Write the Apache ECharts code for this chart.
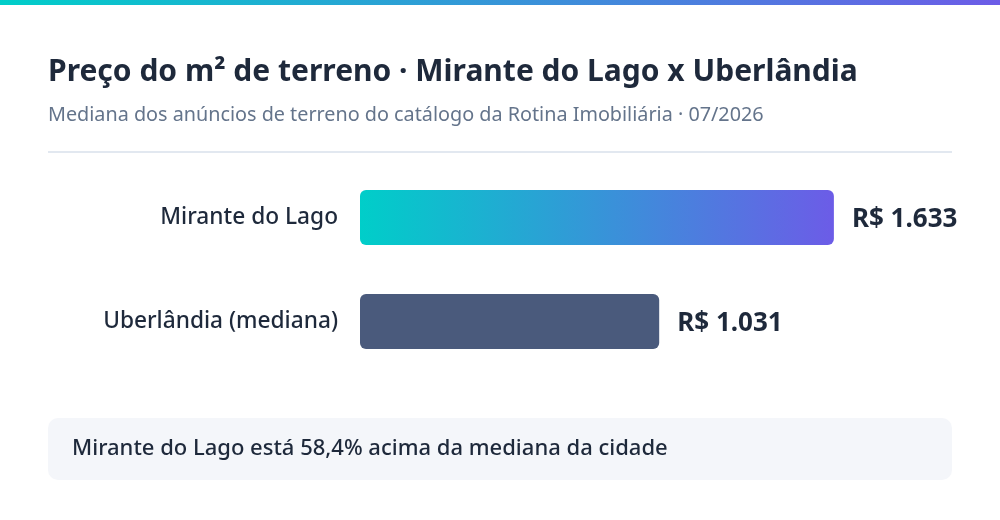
<!DOCTYPE html>
<html>
<head>
<meta charset="utf-8">
<script src="https://cdn.jsdelivr.net/npm/echarts@6/dist/echarts.min.js"></script>
<style>
html,body{margin:0;padding:0;background:#ffffff;}
#chart{width:1000px;height:520px;}
</style>
</head>
<body>
<div id="chart"></div>
<script>
const categories = ['Mirante do Lago', 'Uberlândia (mediana)'];
const values = [1633, 1031];
const valueLabels = ['R$ 1.633', 'R$ 1.031'];
const titleText = 'Preço do m² de terreno · Mirante do Lago x Uberlândia';
const subtitleText = 'Mediana dos anúncios de terreno do catálogo da Rotina Imobiliária · 07/2026';
const noteText = 'Mirante do Lago está 58,4% acima da mediana da cidade';

const FONT = '"Noto Sans", "Open Sans", sans-serif';
const chart = echarts.init(document.getElementById('chart'));

const gradient = new echarts.graphic.LinearGradient(0, 0, 1, 0, [
  {offset: 0, color: '#00cec9'},
  {offset: 1, color: '#6c5ce7'}
]);

chart.setOption({
  backgroundColor: '#ffffff',
  animation: false,
  title: {
    text: titleText,
    subtext: subtitleText,
    left: 43,
    top: 52,
    itemGap: 18,
    textStyle: {fontFamily: FONT, fontSize: 30, fontWeight: 700, color: '#1e293b'},
    subtextStyle: {fontFamily: FONT, fontSize: 19.8, color: '#64748b'}
  },
  grid: {left: 360, top: 165.5, width: 592, height: 208},
  xAxis: {type: 'value', min: 0, max: 2040, show: false},
  yAxis: {
    type: 'category',
    data: categories,
    inverse: true,
    axisLine: {show: false},
    axisTick: {show: false},
    axisLabel: {
      margin: 22,
      padding: [6, 0, 0, 0],
      fontFamily: FONT, fontSize: 22.7, fontWeight: 500, color: '#1e293b'
    }
  },
  series: [{
    type: 'bar',
    barWidth: 55,
    data: values.map((v, i) => ({
      value: v,
      itemStyle: {color: i === 0 ? gradient : '#4a5a7c', borderRadius: 6},
      label: {formatter: valueLabels[i]}
    })),
    label: {
      show: true,
      position: 'right',
      distance: 18,
      offset: [0, 2],
      fontFamily: FONT, fontSize: 26, fontWeight: 700, color: '#1e293b'
    }
  }],
  graphic: [
    {
      type: 'rect', left: 0, top: 0,
      shape: {width: 1000, height: 5},
      style: {fill: new echarts.graphic.LinearGradient(0, 0, 1, 0, [
        {offset: 0, color: '#00cec9'}, {offset: 1, color: '#6c5ce7'}
      ])}
    },
    {
      type: 'rect', left: 48, top: 151,
      shape: {width: 904, height: 2},
      style: {fill: '#e2e8f0'}
    },
    {
      type: 'rect', left: 48, top: 418,
      shape: {width: 904, height: 62, r: 10},
      style: {fill: '#f4f6fa'}
    },
    {
      type: 'text', left: 72, top: 438,
      style: {text: noteText, fontFamily: FONT, fontSize: 22, fontWeight: 500, fill: '#1e293b'}
    }
  ]
});
</script>
</body>
</html>
